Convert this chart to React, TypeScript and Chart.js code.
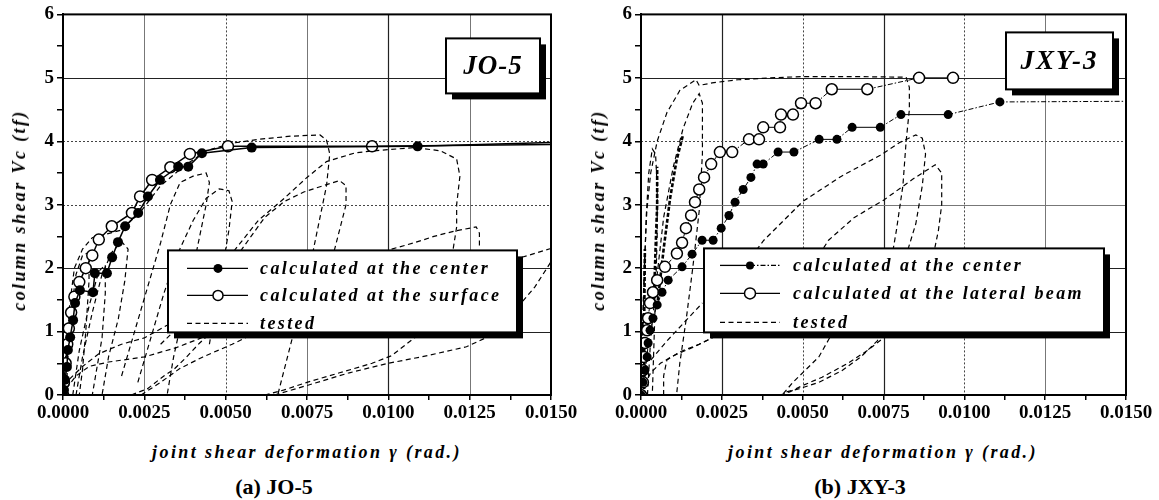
import React, { useEffect, useRef } from 'react';
import { Chart, registerables } from 'chart.js';
Chart.register(...registerables);

type P = [number, number];

// ---------- axis ticks ----------
const xTickValuesMajor = [0, 0.0025, 0.005, 0.0075, 0.01, 0.0125, 0.015];
const xTickLabels = ['0.0000', '0.0025', '0.0050', '0.0075', '0.0100', '0.0125', '0.0150'];
const yTickValuesMajor = [0, 1, 2, 3, 4, 5, 6];
const yTickLabels = ['0', '1', '2', '3', '4', '5', '6'];

// ---------- (a) JO-5 ----------
const jo5Center: P[] = [
  [0, 0], [0.00003, 0.08], [0.00006, 0.24], [0.00012, 0.44], [0.00015, 0.71], [0.00022, 0.91],
  [0.00031, 1.18], [0.00037, 1.45], [0.00052, 1.65], [0.00092, 1.62], [0.00098, 1.92], [0.00135, 1.92],
  [0.00151, 2.17], [0.00169, 2.41], [0.00191, 2.66], [0.00231, 2.87], [0.00261, 3.13], [0.00298, 3.39],
  [0.00354, 3.6], [0.00385, 3.6], [0.00427, 3.81], [0.0058, 3.9], [0.0109, 3.92], [0.015, 3.98],
];
const jo5Surface: P[] = [
  [0, 0], [0.00003, 0.2], [0.00008, 0.5], [0.00013, 0.8], [0.00018, 1.05], [0.00025, 1.3],
  [0.00035, 1.55], [0.0005, 1.78], [0.0007, 2.0], [0.0009, 2.2], [0.0011, 2.45], [0.0015, 2.66],
  [0.00212, 2.87], [0.00237, 3.13], [0.00274, 3.39], [0.0033, 3.59], [0.0039, 3.8], [0.00507, 3.92],
  [0.0095, 3.92], [0.015, 3.95],
];
const jo5Tested: P[][] = [
  [[0, 0], [0.00008, 0.6], [0.0002, 1.4], [0.00035, 2.0], [0.0006, 2.3], [0.0009, 2.48], [0.0018, 2.6],
   [0.0024, 2.9], [0.003, 3.3], [0.0037, 3.6], [0.0044, 3.85], [0.0052, 3.97], [0.006, 4.03], [0.007, 4.08],
   [0.0079, 4.1], [0.0081, 4.02], [0.0082, 3.8], [0.0081, 3.3], [0.0079, 2.8], [0.0077, 2.3], [0.0074, 1.6],
   [0.0071, 1.0], [0.0068, 0.4], [0.0066, 0]],
  [[0.003, 0.8], [0.0038, 1.2], [0.0046, 1.8], [0.0053, 2.3], [0.006, 2.75], [0.0068, 3.1], [0.0075, 3.43],
   [0.0081, 3.68], [0.009, 3.82], [0.0098, 3.86], [0.0108, 3.9], [0.0116, 3.85], [0.0121, 3.72], [0.0122, 3.45],
   [0.0121, 3.0], [0.0121, 2.65], [0.0119, 2.0], [0.0116, 1.3]],
  [[0.004, 1.0], [0.0048, 1.7], [0.0055, 2.3], [0.0062, 2.8], [0.0068, 3.05], [0.0074, 3.2], [0.008, 3.3],
   [0.0085, 3.38], [0.0087, 3.3], [0.0087, 3.0], [0.0085, 2.6], [0.0083, 2.2], [0.008, 1.8]],
  [[0.0018, 0.3], [0.0022, 1.0], [0.0026, 1.7], [0.003, 2.4], [0.0033, 3.0], [0.0036, 3.35], [0.004, 3.45],
   [0.0044, 3.5], [0.0045, 3.35], [0.0044, 3.0], [0.0042, 2.5], [0.004, 2.0], [0.0037, 1.3], [0.0034, 0.6], [0.0032, 0]],
  [[0.0023, 0.2], [0.0027, 0.9], [0.0031, 1.6], [0.0035, 2.2], [0.004, 2.75], [0.0044, 3.1], [0.0048, 3.25],
   [0.0051, 3.22], [0.0052, 3.05], [0.0051, 2.6], [0.0049, 2.0], [0.0047, 1.4], [0.0045, 0.8]],
  [[0.0004, 0], [0.0006, 0.6], [0.0009, 1.3], [0.0012, 1.9], [0.0015, 2.25], [0.0018, 2.42], [0.002, 2.3],
   [0.0019, 1.8], [0.0017, 1.2], [0.0014, 0.6], [0.0012, 0]],
  [[0.0001, 0], [0.00015, 0.6], [0.00025, 1.3], [0.0004, 1.9], [0.0006, 2.2], [0.0008, 2.25], [0.0008, 1.8],
   [0.0007, 1.0], [0.0006, 0.4], [0.0005, 0]],
  [[0.0003, 0], [0.0005, 0.7], [0.0008, 1.4], [0.0011, 1.95], [0.0013, 2.05], [0.0013, 1.6], [0.0012, 0.9],
   [0.001, 0.3], [0.0009, 0]],
  [[0.0001, 0.1], [0.0004, 0.3], [0.0008, 0.45], [0.0014, 0.52], [0.0025, 0.6], [0.0035, 0.75], [0.0045, 0.95]],
  [[0.0002, 0.25], [0.0006, 0.45], [0.0011, 0.65], [0.0018, 0.8], [0.0025, 0.9], [0.0032, 1.1]],
  [[0.0021, 0], [0.0026, 0.1], [0.0031, 0.3], [0.0034, 0.4], [0.0038, 0.6], [0.0042, 0.82], [0.0048, 1.1]],
  [[0.0024, 0], [0.003, 0.2], [0.0036, 0.42], [0.0043, 0.6], [0.0052, 0.8], [0.006, 1.0]],
  [[0.0062, 0], [0.0068, 0.08], [0.0075, 0.2], [0.0085, 0.35], [0.0095, 0.5], [0.0101, 0.62], [0.0108, 0.9], [0.0115, 1.2]],
  [[0.0065, 0], [0.0075, 0.15], [0.0088, 0.35], [0.01, 0.5], [0.0112, 0.62], [0.0124, 0.76], [0.0132, 0.95],
   [0.014, 1.4], [0.0145, 1.7], [0.015, 2.1]],
  [[0.0101, 2.3], [0.0108, 2.4], [0.0114, 2.5], [0.012, 2.58], [0.0127, 2.65], [0.0128, 2.55], [0.0128, 2.3]],
  [[0.0136, 2.1], [0.0143, 2.2], [0.015, 2.31]],
];

// ---------- (b) JXY-3 ----------
const jxyCenter: P[] = [
  [0, 0], [0.00006, 0.2], [0.00012, 0.39], [0.00019, 0.6], [0.00022, 0.82], [0.00028, 1.02], [0.00037, 1.21],
  [0.0005, 1.42], [0.00065, 1.62], [0.00084, 1.81], [0.00127, 2.02], [0.00158, 2.22], [0.00189, 2.44],
  [0.00223, 2.44], [0.00248, 2.63], [0.00272, 2.83], [0.00291, 3.04], [0.00316, 3.24], [0.0034, 3.43],
  [0.00359, 3.64], [0.00378, 3.64], [0.00424, 3.83], [0.00473, 3.83], [0.00551, 4.03], [0.00606, 4.03],
  [0.00653, 4.22], [0.0074, 4.22], [0.00804, 4.42], [0.0095, 4.42], [0.0111, 4.62], [0.015, 4.63],
];
const jxyLateral: P[] = [
  [0, 0], [0.00006, 0.2], [0.00006, 0.39], [0.00009, 0.6], [0.00012, 0.82], [0.00019, 1.02], [0.00022, 1.21],
  [0.00028, 1.45], [0.00037, 1.62], [0.0005, 1.81], [0.00074, 2.02], [0.00111, 2.23], [0.00127, 2.4],
  [0.00139, 2.63], [0.00155, 2.83], [0.00167, 3.04], [0.0018, 3.24], [0.00195, 3.43], [0.00217, 3.64],
  [0.00244, 3.83], [0.00282, 3.83], [0.00334, 4.03], [0.00365, 4.03], [0.00378, 4.22], [0.0043, 4.22],
  [0.00433, 4.42], [0.0047, 4.42], [0.00495, 4.6], [0.0054, 4.6], [0.0059, 4.82], [0.007, 4.82],
  [0.0086, 5.0], [0.00965, 5.0],
];
const jxyTested: P[][] = [
  [[0, 0], [0.00004, 1.0], [0.0001, 2.0], [0.00018, 2.9], [0.0003, 3.5], [0.0005, 4.0], [0.0008, 4.45],
   [0.0012, 4.8], [0.0017, 4.97], [0.0018, 4.88], [0.0022, 4.92], [0.003, 4.97], [0.004, 5.0], [0.005, 5.02],
   [0.0065, 5.02], [0.0082, 5.01], [0.0083, 4.85], [0.0083, 4.5], [0.0082, 4.0], [0.0081, 3.3], [0.0079, 2.6], [0.0077, 2.0]],
  [[0, 0], [0.00005, 0.8], [0.0001, 1.8], [0.00016, 2.8], [0.00024, 3.5], [0.00035, 3.88], [0.00045, 3.8],
   [0.0005, 3.3], [0.0005, 2.5], [0.00045, 1.6], [0.0004, 0.8], [0.00035, 0]],
  [[0.0002, 0], [0.0003, 0.9], [0.0005, 1.9], [0.0007, 2.8], [0.001, 3.6], [0.0013, 4.2], [0.0016, 4.6],
   [0.0018, 4.75], [0.0019, 4.6], [0.0019, 3.8], [0.0018, 2.9], [0.0016, 2.0], [0.0014, 1.2], [0.0012, 0.5], [0.0011, 0]],
  [[0.0007, 0], [0.0007, 0.3], [0.0008, 0.55], [0.0012, 0.68], [0.0018, 0.8], [0.0024, 0.95]],
  [[0.0001, 0.15], [0.0003, 0.35], [0.0006, 0.5], [0.001, 0.62], [0.0016, 0.75], [0.0022, 0.9]],
  [[0.0003, 0.55], [0.0008, 0.85], [0.0014, 1.18], [0.0019, 1.45]],
  [[0.0022, 1.3], [0.003, 1.9], [0.0038, 2.44], [0.005, 3.05], [0.0062, 3.45], [0.0074, 3.78], [0.008, 3.98],
   [0.0085, 4.1], [0.0087, 4.05], [0.0088, 3.8], [0.0087, 3.3], [0.0085, 2.7], [0.0082, 2.2], [0.0079, 1.5]],
  [[0.0042, 1.2], [0.005, 1.8], [0.0058, 2.44], [0.0066, 2.8], [0.0075, 3.07], [0.0084, 3.4], [0.0091, 3.63],
   [0.0093, 3.5], [0.0093, 3.0], [0.0092, 2.6], [0.009, 2.1], [0.0088, 1.5]],
  [[0.0043, 0], [0.0046, 0.05], [0.005, 0.15], [0.0056, 0.28], [0.0064, 0.5], [0.007, 0.7], [0.0075, 0.9], [0.0078, 1.05]],
  [[0.0044, 0.02], [0.0047, 0.2], [0.0051, 0.4], [0.0055, 0.6], [0.0058, 0.87], [0.006, 1.05]],
  [[0.0045, 0.05], [0.0049, 0.1], [0.0055, 0.2], [0.0062, 0.38], [0.0068, 0.6], [0.0073, 0.85], [0.0076, 1.05]],
];
const jxyTestedHeavy: P[][] = [
  [[0.0004, 1.5], [0.00045, 2.3], [0.0005, 3.0], [0.0005, 3.6]],
  [[0.0005, 1.4], [0.0007, 2.3], [0.0009, 3.1], [0.0011, 3.7], [0.0013, 4.1]],
  [[0.0001, 0], [0.0001, 1.2], [0.00012, 2.3]],
];

// ---------- styles ----------
const FONT = '"Liberation Serif", "Times New Roman", serif';
type GridStyle = 'dark' | 'gray' | 'dot';
const gridStyles: Record<GridStyle, { color: string; width: number; dash: number[] }> = {
  dark: { color: '#222', width: 1.2, dash: [] },
  gray: { color: '#777', width: 1, dash: [] },
  dot: { color: '#444', width: 1, dash: [2, 2] },
};

const toXY = (pts: P[]) => pts.map(([x, y]) => ({ x, y }));
const withMinor = (majors: number[]) =>
  majors.flatMap((v, i) => (i < majors.length - 1 ? [v, (v + majors[i + 1]) / 2] : [v]));

const gridPlugin = {
  id: 'customGrid',
  beforeDatasetsDraw(chart: any, _a: any, o: any) {
    const { ctx, chartArea: a, scales } = chart;
    ctx.save();
    const line = (x1: number, y1: number, x2: number, y2: number, s: GridStyle) => {
      const st = gridStyles[s];
      ctx.strokeStyle = st.color;
      ctx.lineWidth = st.width;
      ctx.setLineDash(st.dash);
      ctx.beginPath();
      ctx.moveTo(x1, y1);
      ctx.lineTo(x2, y2);
      ctx.stroke();
    };
    xTickValuesMajor.slice(1, -1).forEach((v, i) => {
      const px = Math.round(scales.x.getPixelForValue(v)) + 0.5;
      line(px, a.top, px, a.bottom, o.v[i]);
    });
    yTickValuesMajor.slice(1, -1).forEach((v, i) => {
      const py = Math.round(scales.y.getPixelForValue(v)) + 0.5;
      line(a.left, py, a.right, py, o.h[i]);
    });
    ctx.restore();
  },
};

const boxesPlugin = {
  id: 'boxes',
  afterDatasetsDraw(chart: any, _a: any, o: any) {
    const { ctx, chartArea: a } = chart;
    ctx.save();
    ctx.setLineDash([]);
    // frame
    ctx.strokeStyle = '#000';
    ctx.lineWidth = 2;
    ctx.strokeRect(a.left, a.top, a.right - a.left, a.bottom - a.top);

    const shadowBox = (x: number, y: number, w: number, h: number) => {
      ctx.fillStyle = '#000';
      ctx.fillRect(x + 6, y + 6, w, h);
      ctx.fillStyle = '#fff';
      ctx.fillRect(x, y, w, h);
      ctx.strokeStyle = '#000';
      ctx.lineWidth = 2;
      ctx.strokeRect(x, y, w, h);
    };

    // specimen label
    const L = o.label;
    shadowBox(a.left + L.x, a.top + L.y, L.w, L.h);
    ctx.fillStyle = '#000';
    ctx.font = `italic bold 27px ${FONT}`;
    (ctx as any).letterSpacing = L.spacing;
    ctx.textAlign = 'center';
    ctx.textBaseline = 'middle';
    ctx.fillText(L.text, a.left + L.x + L.w / 2, a.top + L.y + L.h / 2 + 1);

    // legend
    const G = o.legend;
    const gx = a.left + G.x;
    const gy = a.top + G.y;
    shadowBox(gx, gy, G.w, G.h);
    ctx.textAlign = 'left';
    (ctx as any).letterSpacing = '2.4px';
    ctx.font = `italic bold 18px ${FONT}`;
    G.rows.forEach((r: any, i: number) => {
      const y = gy + G.rowY[i];
      const x1 = gx + G.s1, x2 = gx + G.s2, xm = gx + G.sm;
      ctx.strokeStyle = '#000';
      ctx.lineWidth = r.kind === 'dash' ? 1.2 : 1.3;
      if (r.kind === 'dash') {
        ctx.setLineDash([5, 3.5]);
        ctx.beginPath(); ctx.moveTo(x1, y); ctx.lineTo(x2, y); ctx.stroke();
      } else if (r.dashRight) {
        ctx.setLineDash([]);
        ctx.beginPath(); ctx.moveTo(x1, y); ctx.lineTo(xm, y); ctx.stroke();
        ctx.setLineDash([5, 2, 1.5, 2]);
        ctx.beginPath(); ctx.moveTo(xm, y); ctx.lineTo(x2, y); ctx.stroke();
      } else {
        ctx.setLineDash([]);
        ctx.beginPath(); ctx.moveTo(x1, y); ctx.lineTo(x2, y); ctx.stroke();
      }
      ctx.setLineDash([]);
      if (r.kind === 'filled') {
        ctx.fillStyle = '#000';
        ctx.beginPath(); ctx.arc(xm, y, r.r, 0, Math.PI * 2); ctx.fill();
      } else if (r.kind === 'open') {
        ctx.fillStyle = '#fff';
        ctx.lineWidth = 1.5;
        ctx.beginPath(); ctx.arc(xm, y, r.r, 0, Math.PI * 2); ctx.fill(); ctx.stroke();
      }
      ctx.fillStyle = '#000';
      ctx.fillText(r.text, gx + G.tx, y + 1);
    });
    ctx.restore();
  },
};

function buildConfig(p: any) {
  const tested = p.tested.map((c: P[]) => ({
    data: toXY(c), showLine: true, borderColor: '#000', borderWidth: 1.2, borderDash: [5, 3.5],
    pointRadius: 0, tension: 0, fill: false, order: 5,
  }));
  const heavy = (p.heavy || []).map((c: P[]) => ({
    data: toXY(c), showLine: true, borderColor: '#000', borderWidth: 2.6, borderDash: [4, 2],
    pointRadius: 0, tension: 0, fill: false, order: 5,
  }));
  const segDash = p.segmentDash
    ? { borderDash: (c: any) => (c.p0.parsed.y === c.p1.parsed.y ? [] : [5, 2, 1.5, 2]) }
    : undefined;
  const filled = {
    label: p.legend.rows[0].text, data: toXY(p.filled), showLine: true, borderColor: '#000',
    borderWidth: p.lineW, backgroundColor: '#000', pointBorderColor: '#000',
    pointRadius: (c: any) => (c.raw && c.raw.x >= 0.015 ? 0 : p.filledR), pointBorderWidth: 0,
    tension: 0, order: 1, segment: segDash,
  };
  const open = {
    label: p.legend.rows[1].text, data: toXY(p.open), showLine: true, borderColor: '#000',
    borderWidth: p.lineW, backgroundColor: '#fff', pointBackgroundColor: '#fff', pointBorderColor: '#000',
    pointRadius: (c: any) => (c.raw && c.raw.x >= 0.015 ? 0 : p.openR), pointBorderWidth: 1.5,
    tension: 0, order: 2, segment: segDash,
  };
  const tickFont = { family: FONT, size: 19, weight: 'bold' as const };
  const xTicks = withMinor(xTickValuesMajor);
  const yTicks = withMinor(yTickValuesMajor);
  return {
    type: 'scatter' as const,
    data: { datasets: [filled, open, ...tested, ...heavy] },
    options: {
      animation: false as const,
      responsive: false,
      maintainAspectRatio: false,
      layout: { padding: { left: 0, top: 14, right: p.padRight, bottom: 0 } },
      plugins: {
        legend: { display: false },
        tooltip: { enabled: false },
        customGrid: { v: p.gridV, h: p.gridH },
        boxes: { label: p.label, legend: p.legend },
      },
      scales: {
        x: {
          type: 'linear' as const, min: 0, max: 0.015,
          afterFit: (s: any) => { s.height = 35; },
          afterBuildTicks: (s: any) => { s.ticks = xTicks.map((v) => ({ value: v })); },
          ticks: {
            autoSkip: false, maxRotation: 0, minRotation: 0, padding: 2, color: '#000', font: tickFont,
            callback: (_v: any, i: number) => (i % 2 === 0 ? xTickLabels[i / 2] : ''),
          },
          grid: { drawOnChartArea: false, drawTicks: true, tickLength: 5, color: '#000', tickColor: '#000', lineWidth: 1.5 },
          border: { display: true, color: '#000', width: 2 },
        },
        y: {
          type: 'linear' as const, min: 0, max: 6,
          afterFit: (s: any) => { s.width = p.yWidth; },
          afterBuildTicks: (s: any) => { s.ticks = yTicks.map((v) => ({ value: v })); },
          ticks: {
            autoSkip: false, padding: 3, color: '#000', font: tickFont,
            callback: (_v: any, i: number) => (i % 2 === 0 ? yTickLabels[i / 2] : ''),
          },
          grid: { drawOnChartArea: false, drawTicks: true, tickLength: 6, color: '#000', tickColor: '#000', lineWidth: 1.5 },
          border: { display: true, color: '#000', width: 2 },
        },
      },
    },
    plugins: [gridPlugin, boxesPlugin],
  };
}

const panelA = {
  filled: jo5Center, open: jo5Surface, tested: jo5Tested, heavy: [] as P[][],
  filledR: 5, openR: 5.5, lineW: 1.5, segmentDash: false,
  yWidth: 63, padRight: 39,
  gridV: ['gray', 'dot', 'gray', 'dark', 'gray'], gridH: ['dark', 'dark', 'dot', 'dot', 'dark'],
  label: { text: 'JO-5', x: 383, y: 24, w: 94, h: 55, spacing: '1px' },
  legend: {
    x: 105, y: 236, w: 349, h: 82, s1: 19, s2: 80, sm: 50, tx: 92, rowY: [18, 45, 73],
    rows: [
      { kind: 'filled', r: 4.5, text: 'calculated at the center' },
      { kind: 'open', r: 5, text: 'calculated at the surface' },
      { kind: 'dash', text: 'tested' },
    ],
  },
};

const panelB = {
  filled: jxyCenter, open: jxyLateral, tested: jxyTested, heavy: jxyTestedHeavy,
  filledR: 4.5, openR: 5.5, lineW: 1, segmentDash: true,
  yWidth: 66, padRight: 33,
  gridV: ['dark', 'dot', 'dark', 'dot', 'gray'], gridH: ['dark', 'dark', 'gray', 'dot', 'dark'],
  label: { text: 'JXY-3', x: 365, y: 18, w: 107, h: 57, spacing: '2px' },
  legend: {
    x: 63, y: 234, w: 400, h: 84, s1: 16, s2: 76, sm: 46, tx: 89, rowY: [17, 45, 74],
    rows: [
      { kind: 'filled', r: 4, dashRight: true, text: 'calculated at the center' },
      { kind: 'open', r: 5.5, text: 'calculated at the lateral beam' },
      { kind: 'dash', text: 'tested' },
    ],
  },
};

function Panel({ cfg, left, width }: { cfg: any; left: number; width: number }) {
  const ref = useRef<HTMLCanvasElement>(null);
  useEffect(() => {
    if (!ref.current) return;
    const chart = new Chart(ref.current, buildConfig(cfg) as any);
    return () => chart.destroy();
  }, [cfg]);
  return (
    <canvas
      ref={ref}
      width={width}
      height={430}
      style={{ position: 'absolute', left, top: 0, width, height: 430 }}
    />
  );
}

const titleStyle: React.CSSProperties = {
  position: 'absolute',
  fontFamily: FONT,
  fontStyle: 'italic',
  fontWeight: 'bold',
  fontSize: 18,
  letterSpacing: '2.4px',
  whiteSpace: 'nowrap',
  color: '#000',
  lineHeight: 1,
};
const capStyle: React.CSSProperties = {
  position: 'absolute',
  fontFamily: FONT,
  fontWeight: 'bold',
  fontSize: 22,
  whiteSpace: 'nowrap',
  color: '#000',
  lineHeight: 1,
  transform: 'translate(-50%, -50%)',
};

export default function App() {
  return (
    <div style={{ position: 'absolute', left: 0, top: 0, width: 1159, height: 500, background: '#fff', overflow: 'hidden' }}>
      <Panel cfg={panelA} left={0} width={590} />
      <Panel cfg={panelB} left={575} width={584} />
      <div style={{ ...titleStyle, left: 19, top: 210, transform: 'translate(-50%, -50%) rotate(-90deg)' }}>column shear Vc (tf)</div>
      <div style={{ ...titleStyle, left: 598, top: 210, transform: 'translate(-50%, -50%) rotate(-90deg)' }}>column shear Vc (tf)</div>
      <div style={{ ...titleStyle, left: 307, top: 452, transform: 'translate(-50%, -50%)' }}>joint shear deformation γ (rad.)</div>
      <div style={{ ...titleStyle, left: 883, top: 452, transform: 'translate(-50%, -50%)' }}>joint shear deformation γ (rad.)</div>
      <div style={{ ...capStyle, left: 274, top: 487 }}>(a) JO-5</div>
      <div style={{ ...capStyle, left: 860, top: 487 }}>(b) JXY-3</div>
    </div>
  );
}
